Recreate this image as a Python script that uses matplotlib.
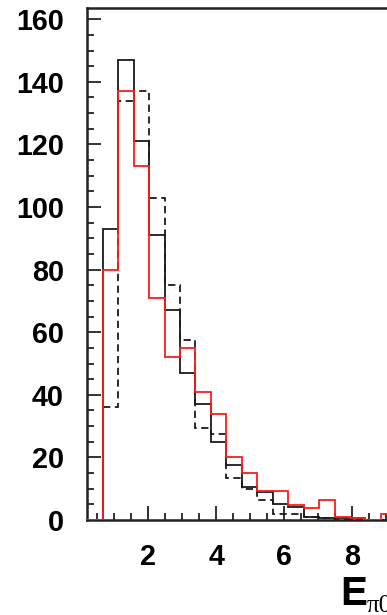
import numpy as np
import matplotlib
matplotlib.use('Agg')
from matplotlib import pyplot as plt
from matplotlib.ticker import MultipleLocator


#(0) Histogram contents (22 bins, 0.21 .. 10.2):
x_lo, x_hi   = 0.21, 10.2
n_bins       = 22
h_black      = [0, 93, 147, 121, 91, 67, 47, 37, 25, 17.5, 10.6, 9.0, 5.0, 4.1, 1.0, 0.5, 0.5, 0.5, 0, 0, 0, 0]
h_red        = [0, 80, 137, 113, 71, 52, 55, 41, 34, 20, 15, 9.2, 9.2, 4.8, 3.7, 6.3, 1.0, 0.5, 0, 2.0, 2.0, 0]
h_dashed     = [0, 36, 134, 137, 103, 75, 57.5, 29.5, 27.5, 13.3, 9.8, 6.3, 2.0, 1.8, 1.1, 0.5, 0, 0, 0, 0, 0, 0]
xticks       = [2, 4, 6, 8]
yticks       = [0, 20, 40, 60, 80, 100, 120, 140, 160]



#(1) Plot:
plt.close('all')
plt.rcParams['font.family'] = ['Liberation Sans', 'DejaVu Sans']
W,H      = 387, 615
fig      = plt.figure(figsize=(W/100, H/100), dpi=100)
# axes run off the right edge of the picture (cropped as in the original)
ax       = fig.add_axes([87.3/W, 95/H, 340/W, 511.7/H])

edges    = np.linspace(x_lo, x_hi, n_bins+1)
lw       = 1.3
ax.stairs(h_black,  edges, color='#1a1a1a', lw=lw, baseline=None, zorder=2)
ax.stairs(h_dashed, edges, color='#1a1a1a', lw=lw, ls=(0,(4,2.5)), baseline=None, zorder=2)
ax.stairs(h_red,    edges, color='#ff1a1a', lw=lw, baseline=None, zorder=3)

ax.set_xlim(x_lo, x_hi)
ax.set_ylim(0, 163.5)
ax.set_xticks(xticks)
ax.set_yticks(yticks)
ax.xaxis.set_minor_locator(MultipleLocator(0.5))
ax.yaxis.set_minor_locator(MultipleLocator(5))

#ROOT-like frame and ticks:
for s in ['left','bottom','top','right']:
	ax.spines[s].set_linewidth(1.8)
	ax.spines[s].set_color('#222222')
ax.tick_params(which='both', direction='in', top=False, right=False, width=1.3, color='#222222')
ax.tick_params(which='major', length=10)
ax.tick_params(which='minor', length=5)
ax.tick_params(axis='y', which='major', labelsize=20.7, pad=17)
ax.tick_params(axis='x', which='major', labelsize=20.7, pad=16.5)
for t in ax.get_xticklabels() + ax.get_yticklabels():
	t.set_fontweight('bold')

#axis title (cut by the picture edge):
fig.text(340/W, 10/H, 'E', fontsize=29, fontweight='bold', ha='left', va='baseline')
fig.text(367/W, 3/H, 'π0', fontsize=18, ha='left', va='baseline',
	family=['Liberation Serif', 'DejaVu Serif'])

plt.savefig('out.png', dpi=100)
